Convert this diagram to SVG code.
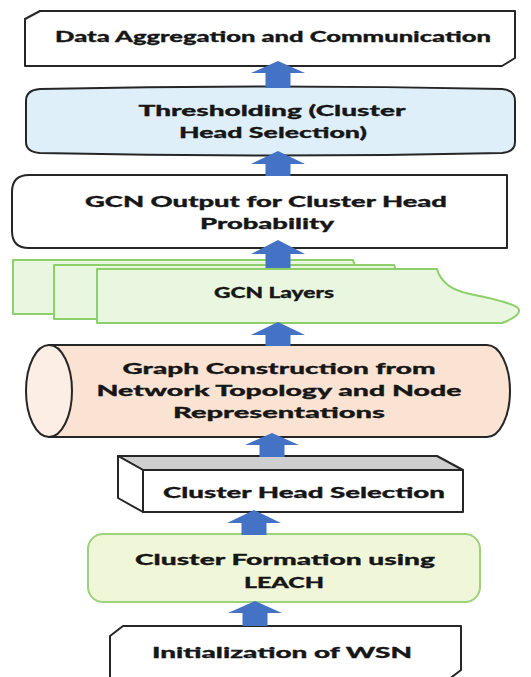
<svg xmlns="http://www.w3.org/2000/svg" width="531" height="677" viewBox="0 0 531 677">
<style>
.t{font-family:Lato,"Open Sans","Liberation Sans",sans-serif;font-weight:900;font-size:15.5px;fill:#161616;stroke:#161616;stroke-width:0.3;text-anchor:middle}
.k{stroke:#262626;stroke-width:2;stroke-linejoin:round}
.g{fill:#E9F6E0;stroke:#8DCF68;stroke-width:2;stroke-linejoin:round}
.arr{fill:#4472C4}
</style>
<rect width="531" height="677" fill="#ffffff"/>
<g id="n1">
<path class="k" d="M25,19 L40,11 L515,11 L515,58 L502,66 L25,66 Z" fill="#ffffff"/>
<text class="t" x="273" y="42" textLength="436" lengthAdjust="spacingAndGlyphs">Data Aggregation and Communication</text>
</g>
<g id="n2">
<path class="k" d="M26,101 Q26,90 40,89 Q270,84 502,89 Q515,90 515,101 L515,142 Q515,152 502,153 Q270,158 40,153 Q26,152 26,142 Z" fill="#DEEFFA"/>
<text class="t" x="272" y="116" textLength="267" lengthAdjust="spacingAndGlyphs">Thresholding (Cluster</text>
<text class="t" x="273" y="138" textLength="188" lengthAdjust="spacingAndGlyphs">Head Selection)</text>
</g>
<g id="n3">
<path class="k" d="M29,175 L507,175 L507,248 L29,248 Q12,248 12,231 L12,192 Q12,175 29,175 Z" fill="#ffffff"/>
<text class="t" x="266" y="207" textLength="362" lengthAdjust="spacingAndGlyphs">GCN Output for Cluster Head</text>
<text class="t" x="267" y="229" textLength="134" lengthAdjust="spacingAndGlyphs">Probability</text>
</g>
<g id="n4">
<path class="g" transform="translate(-84,-9)" d="M97,269 H437 C440,280 450,290 470,294 C495,299 512,303 518,308 C522,313 515,318 502,323 H97 Z"/>
<path class="g" transform="translate(-43,-4)" d="M97,269 H437 C440,280 450,290 470,294 C495,299 512,303 518,308 C522,313 515,318 502,323 H97 Z"/>
<path class="g" d="M97,269 H437 C440,280 450,290 470,294 C495,299 512,303 518,308 C522,313 515,318 502,323 H97 Z"/>
<text class="t" x="274" y="298" textLength="120" lengthAdjust="spacingAndGlyphs">GCN Layers</text>
</g>
<g id="n5">
<path class="k" d="M49,345 L487,345 A23,46 0 0 1 487,437 L49,437 Z" fill="#FBE3D3"/>
<ellipse class="k" cx="49" cy="391" rx="23" ry="46" fill="#FCEEE5"/>
<text class="t" x="279" y="374" textLength="313" lengthAdjust="spacingAndGlyphs">Graph Construction from</text>
<text class="t" x="279" y="396" textLength="365" lengthAdjust="spacingAndGlyphs">Network Topology and Node</text>
<text class="t" x="279" y="418" textLength="212" lengthAdjust="spacingAndGlyphs">Representations</text>
</g>
<g id="n6">
<path class="k" d="M143,470 L118,456 L437,456 L463,470 Z" fill="#CFCFCF"/>
<path class="k" d="M143,470 L118,456 L118,498 L143,512 Z" fill="#ffffff"/>
<rect class="k" x="143" y="470" width="320" height="42" fill="#ffffff"/>
<text class="t" x="304" y="498" textLength="282" lengthAdjust="spacingAndGlyphs">Cluster Head Selection</text>
</g>
<g id="n7">
<rect x="88" y="534" width="392" height="68" rx="15" fill="#F0F7D9" stroke="#9CD27B" stroke-width="2"/>
<text class="t" x="285" y="565" textLength="300" lengthAdjust="spacingAndGlyphs">Cluster Formation using</text>
<text class="t" x="284" y="588" textLength="80" lengthAdjust="spacingAndGlyphs">LEACH</text>
</g>
<g id="n8">
<path class="k" d="M110,690 L110,636 L123,626 L461,626 L461,670 L448,680" fill="#ffffff"/>
<text class="t" x="282" y="658" textLength="260" lengthAdjust="spacingAndGlyphs">Initialization of WSN</text>
</g>
<g id="connectors">
<polygon class="arr" points="278,61 305,73 290.5,73 290.5,88 265.5,88 265.5,73 251,73"/>
<polygon class="arr" points="278,151 305,164 290.5,164 290.5,176 265.5,176 265.5,164 251,164"/>
<polygon class="arr" points="278,240 305,254 290.5,254 290.5,268 265.5,268 265.5,254 251,254"/>
<polygon class="arr" points="278,322 305,335 290.5,335 290.5,346 265.5,346 265.5,335 251,335"/>
<polygon class="arr" points="272,433 299,445 284.5,445 284.5,457 259.5,457 259.5,445 245,445"/>
<polygon class="arr" points="254,510 281,523 266.5,523 266.5,535 241.5,535 241.5,523 227,523"/>
<polygon class="arr" points="255,601 282,613 267.5,613 267.5,626 242.5,626 242.5,613 228,613"/>
</g>
</svg>
